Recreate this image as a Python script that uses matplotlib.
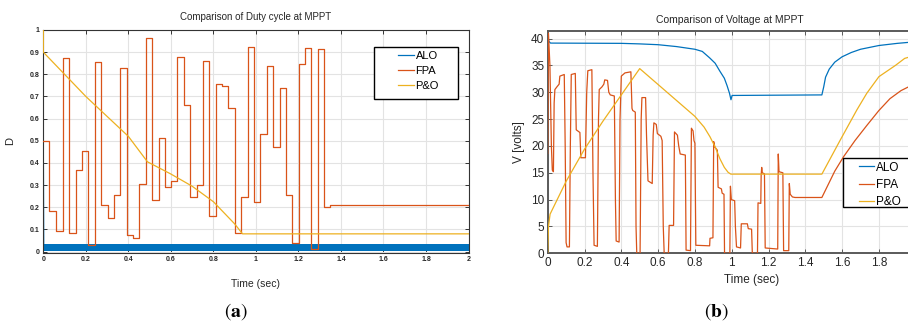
import matplotlib.pyplot as plt
from matplotlib.patches import Rectangle

plt.rcParams["font.family"] = ["Liberation Sans", "DejaVu Sans"]
plt.rcParams["mathtext.fontset"] = "stix"

BLUE = "#0072BD"
RED = "#D95319"
YELLOW = "#EDB120"
LABELS = ["ALO", "FPA", "P&O"]

# (a) duty cycle, FPA is a staircase: value holds from each time on
FPA_D_T = [0.000, 0.028, 0.060, 0.091, 0.122, 0.154, 0.182, 0.212, 0.241, 0.273,
           0.302, 0.332, 0.362, 0.392, 0.422, 0.451, 0.481, 0.511, 0.542, 0.571,
           0.602, 0.630, 0.661, 0.691, 0.721, 0.751, 0.781, 0.812, 0.840, 0.870,
           0.901, 0.931, 0.961, 0.991, 1.020, 1.050, 1.081, 1.111, 1.141, 1.171,
           1.203, 1.232, 1.260, 1.291, 1.322, 1.350, 2.000]
FPA_D = [0.500, 0.185, 0.093, 0.872, 0.086, 0.367, 0.453, 0.030, 0.857, 0.208,
         0.151, 0.257, 0.829, 0.073, 0.063, 0.305, 0.965, 0.234, 0.511, 0.291,
         0.320, 0.880, 0.660, 0.248, 0.300, 0.861, 0.160, 0.757, 0.749, 0.648,
         0.084, 0.246, 0.923, 0.222, 0.532, 0.838, 0.472, 0.737, 0.254, 0.038,
         0.847, 0.920, 0.012, 0.914, 0.203, 0.210, 0.210]
PO_D_T = [0.0, 0.0, 0.2, 0.4, 0.49, 0.6, 0.7, 0.8, 0.9, 0.937, 2.0]
PO_D = [1.0, 0.9, 0.70, 0.52, 0.405, 0.35, 0.295, 0.225, 0.125, 0.08, 0.08]
ALO_D_T = [0.0, 0.002, 2.0]
ALO_D = [0.5, 0.018, 0.018]
ALO_D_BAND = [0.004, 0.033]

# (b) voltage
FPA_V_T = [0.000, 0.004, 0.012, 0.020, 0.025, 0.031, 0.035, 0.039, 0.050, 0.062,
           0.066, 0.090, 0.095, 0.100, 0.105, 0.118, 0.123, 0.128, 0.150, 0.155,
           0.175, 0.180, 0.205, 0.212, 0.218, 0.240, 0.246, 0.252, 0.270, 0.276,
           0.280, 0.295, 0.305, 0.310, 0.325, 0.332, 0.340, 0.362, 0.368, 0.372,
           0.388, 0.393, 0.400, 0.420, 0.452, 0.458, 0.462, 0.476, 0.480, 0.484,
           0.502, 0.508, 0.512, 0.532, 0.537, 0.545, 0.568, 0.573, 0.577, 0.590,
           0.596, 0.615, 0.622, 0.628, 0.633, 0.656, 0.660, 0.684, 0.689, 0.705,
           0.712, 0.720, 0.748, 0.752, 0.776, 0.781, 0.790, 0.795, 0.800, 0.805,
           0.880, 0.882, 0.898, 0.902, 0.908, 0.922, 0.926, 0.944, 0.948, 0.958,
           0.961, 0.990, 0.993, 0.998, 1.016, 1.020, 1.026, 1.048, 1.052, 1.085,
           1.090, 1.108, 1.112, 1.140, 1.143, 1.158, 1.160, 1.163, 1.166, 1.178,
           1.182, 1.250, 1.253, 1.257, 1.278, 1.282, 1.310, 1.313, 1.318, 1.330,
           1.344, 1.490, 1.520, 1.560, 1.608, 1.670, 1.734, 1.800, 1.860, 1.920,
           1.960, 2.000]
FPA_V = [18.6, 41.0, 35.0, 20.0, 15.5, 15.2, 28.0, 30.5, 31.0, 31.5,
         33.0, 33.3, 20.0, 2.0, 1.2, 1.2, 20.0, 33.3, 33.5, 23.0,
         22.5, 17.8, 17.8, 30.0, 34.0, 34.2, 15.0, 1.5, 1.3, 25.0,
         30.5, 31.0, 31.5, 32.3, 32.2, 30.0, 29.5, 29.3, 10.0, 2.3,
         2.1, 25.0, 33.0, 33.6, 33.8, 27.0, 26.6, 26.3, 5.0, 0.0,
         0.0, 25.0, 29.0, 29.0, 22.0, 13.5, 13.0, 22.0, 24.3, 24.0,
         22.3, 21.8, 21.0, 5.0, 0.0, 0.0, 5.2, 5.2, 22.6, 22.0,
         20.0, 18.5, 18.3, 0.6, 0.5, 23.3, 22.8, 21.0, 20.5, 1.5,
         1.4, 2.8, 2.9, 20.8, 19.8, 19.2, 12.3, 12.0, 11.2, 11.0,
         0.0, 0.0, 12.5, 10.0, 9.8, 5.0, 1.2, 1.0, 5.5, 5.5,
         4.6, 4.5, 0.0, 0.0, 9.4, 9.3, 14.5, 16.0, 15.0, 14.8,
         1.0, 0.8, 18.5, 15.2, 15.0, 0.5, 0.5, 13.0, 11.0, 10.5,
         10.4, 10.4, 12.5, 15.3, 18.0, 21.0, 23.8, 26.6, 28.8, 30.3,
         31.0, 31.5]
ALO_V_T = [0.0, 0.006, 0.015, 0.4, 0.5, 0.6, 0.7, 0.76, 0.8, 0.84, 0.88, 0.91,
           0.936, 0.96, 0.975, 0.988, 0.996, 1.002, 1.49, 1.50, 1.51, 1.53,
           1.56, 1.60, 1.65, 1.70, 1.80, 1.90, 2.0]
ALO_V = [40.5, 39.5, 39.15, 39.1, 39.0, 38.85, 38.5, 38.2, 38.0, 37.6, 36.4, 35.4,
         33.9, 32.6, 31.2, 29.8, 28.6, 29.4, 29.5, 31.0, 32.8, 34.3,
         35.6, 36.6, 37.4, 38.0, 38.7, 39.1, 39.4]
PO_V_T = [0.0, 0.004, 0.013, 0.1, 0.2, 0.3, 0.4, 0.5, 0.8, 0.85, 0.882, 0.91,
          0.936, 0.96, 0.98, 0.995, 1.49, 1.59, 1.68, 1.734, 1.8, 1.89, 1.94, 2.0]
PO_V = [0.0, 5.0, 7.3, 13.4, 19.4, 24.6, 29.5, 34.4, 25.5, 23.5, 21.7, 19.8,
        17.6, 16.0, 15.1, 14.75, 14.75, 21.1, 26.7, 29.8, 32.9, 35.0, 36.3, 36.9]

X_TICKS = [0, 0.2, 0.4, 0.6, 0.8, 1, 1.2, 1.4, 1.6, 1.8, 2]
X_TICK_LABELS = ["0", "0.2", "0.4", "0.6", "0.8", "1", "1.2", "1.4", "1.6", "1.8", "2"]
D_TICKS = [0, 0.1, 0.2, 0.3, 0.4, 0.5, 0.6, 0.7, 0.8, 0.9, 1]
D_TICK_LABELS = ["0", "0.1", "0.2", "0.3", "0.4", "0.5", "0.6", "0.7", "0.8", "0.9", "1"]
V_TICKS = [0, 5, 10, 15, 20, 25, 30, 35, 40]


def matlab_axes(ax, spine_w, spine_c):
    ax.grid(True, color="#e3e3e3", linewidth=0.8)
    ax.set_axisbelow(True)
    for sp in ax.spines.values():
        sp.set_linewidth(spine_w)
        sp.set_color(spine_c)
    ax.tick_params(direction="in", top=True, right=True, length=3,
                   width=0.7, color=spine_c, labelcolor="#262626")


def boxed_legend(ax, handles, rect, anchor, size, hlen):
    ax.add_patch(Rectangle((rect[0], rect[1]), rect[2], rect[3],
                           transform=ax.transAxes, facecolor="white",
                           edgecolor="black", linewidth=1.0, zorder=5,
                           clip_on=False))
    leg = ax.legend(handles, LABELS, loc="upper left", bbox_to_anchor=anchor,
                    frameon=False, borderpad=0, borderaxespad=0,
                    handlelength=hlen, handletextpad=0.15, labelspacing=0.45,
                    prop={"size": size})
    leg.set_zorder(6)


fig = plt.figure(figsize=(9.08, 3.25), dpi=100)

# ---------- (a) duty cycle ----------
ax1 = fig.add_axes([0.0477, 0.2225, 0.4683, 0.6852])
matlab_axes(ax1, 0.8, "#333333")
ax1.fill_between([ALO_D_T[0], ALO_D_T[-1]], ALO_D_BAND[0], ALO_D_BAND[1],
                 color=BLUE, linewidth=0, zorder=2)
h1, = ax1.plot(ALO_D_T, ALO_D, color=BLUE, lw=0.9, zorder=2)
h2, = ax1.step(FPA_D_T, FPA_D, where="post", color=RED, lw=0.9, zorder=3)
h3, = ax1.plot(PO_D_T, PO_D, color=YELLOW, lw=0.9, zorder=4)
ax1.set_xlim(0, 2)
ax1.set_ylim(-0.005, 1)
ax1.set_xticks(X_TICKS, X_TICK_LABELS)
ax1.set_yticks(D_TICKS, D_TICK_LABELS)
ax1.tick_params(labelsize=5, pad=2.5)
for lab in ax1.get_xticklabels() + ax1.get_yticklabels():
    lab.set_fontweight("bold")
ax1.set_title("Comparison of Duty cycle at MPPT", fontsize=7, pad=7,
              color="#262626")
ax1.set_xlabel("Time (sec)", fontsize=7.5, color="#262626")
ax1.xaxis.set_label_coords(0.5, -0.12)
ax1.set_ylabel("D", fontsize=8, color="#262626")
ax1.yaxis.set_label_coords(-0.066, 0.5)
boxed_legend(ax1, [h1, h2, h3], (0.778, 0.69, 0.197, 0.234),
             (0.8335, 0.905), 8, 1.45)

# ---------- (b) voltage ----------
ax2 = fig.add_axes([0.6032, 0.2205, 0.4053, 0.6841])
matlab_axes(ax2, 1.4, "#5a5a5a")
g1, = ax2.plot(ALO_V_T, ALO_V, color=BLUE, lw=0.9, zorder=2)
g2, = ax2.plot(FPA_V_T, FPA_V, color=RED, lw=0.9, zorder=3)
g3, = ax2.plot(PO_V_T, PO_V, color=YELLOW, lw=0.9, zorder=4)
ax2.set_xlim(0, 2)
ax2.set_ylim(0, 41.4)
ax2.set_xticks(X_TICKS[:-1], X_TICK_LABELS[:-1])
ax2.set_yticks(V_TICKS)
ax2.tick_params(labelsize=8.5, pad=2.5)
ax2.set_title("Comparison of Voltage at MPPT", fontsize=7.5, pad=6,
              color="#262626", x=0.495)
ax2.set_xlabel("Time (sec)", fontsize=8.5, color="#262626")
ax2.xaxis.set_label_coords(0.555, -0.095)
ax2.set_ylabel("V [volts]", fontsize=8.5, color="#262626")
ax2.yaxis.set_label_coords(-0.062, 0.5)
boxed_legend(ax2, [g1, g2, g3], (0.8025, 0.2083, 0.25, 0.2204),
             (0.846, 0.413), 8.5, 1.3)

fig.text(236 / 908, 1 - 312 / 325, r"$(\mathbf{a})$", ha="center",
         va="center", fontsize=14)
fig.text(716 / 908, 1 - 312 / 325, r"$(\mathbf{b})$", ha="center",
         va="center", fontsize=14)

fig.savefig("out.png", dpi=100)
